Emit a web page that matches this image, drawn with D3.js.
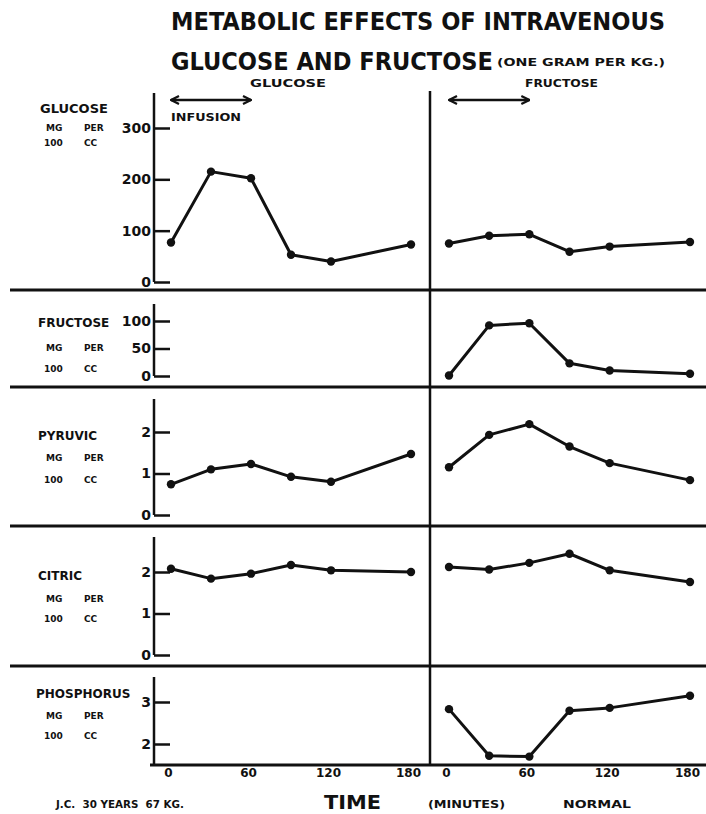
<!DOCTYPE html>
<html>
<head>
<meta charset="utf-8">
<script src="https://cdn.jsdelivr.net/npm/d3@7"></script>
<style>
  body { margin: 0; background: #fff; }
  text { fill: #111; white-space: pre; }
  .lab { font-family: "DejaVu Sans", sans-serif; font-weight: bold; }
  .title { font-family: "Liberation Sans Narrow", "DejaVu Sans Condensed", sans-serif; font-weight: bold; }
</style>
</head>
<body>
<div id="chart"></div>
<script>
// data
var times = [0, 30, 60, 90, 120, 180];
var xTicks = [0, 60, 120, 180];

var glucoseG = [77, 215, 202, 53, 40, 73];
var glucoseF = [75, 90, 93, 59, 69, 78];
var fructoseG = null; // not measured after glucose
var fructoseF = [1, 92, 96, 23, 10, 4];
var pyruvicG = [0.74, 1.10, 1.23, 0.92, 0.80, 1.47];
var pyruvicF = [1.15, 1.93, 2.19, 1.65, 1.25, 0.84];
var citricG = [2.08, 1.84, 1.96, 2.17, 2.04, 2.00];
var citricF = [2.12, 2.06, 2.22, 2.44, 2.04, 1.76];
var phosG = null;
var phosF = [2.83, 1.72, 1.70, 2.79, 2.86, 3.15];

var panelNames = ["GLUCOSE", "FRUCTOSE", "PYRUVIC", "CITRIC", "PHOSPHORUS"];

var width = 706, height = 814;
var svg = d3.select("#chart").append("svg")
    .attr("width", width)
    .attr("height", height);

var xLeft = d3.scaleLinear().domain([0, 180]).range([171, 411]);
var xRight = d3.scaleLinear().domain([0, 180]).range([449, 690]);

var axisX = 154, divX = 430;

// panel layout
var panels = [
  {name: panelNames[0], g: glucoseG, f: glucoseF, domain: [0, 300], range: [282, 128], ticks: [0, 100, 200, 300],
   top: 93, bottom: 282, nameY: 108, mgY: 127, ccY: 142, nameX: 40, nameSize: 13},
  {name: panelNames[1], g: fructoseG, f: fructoseF, domain: [0, 100], range: [376, 321], ticks: [0, 50, 100],
   top: 304, bottom: 376, nameY: 322, mgY: 347, ccY: 368, nameX: 38, nameSize: 12},
  {name: panelNames[2], g: pyruvicG, f: pyruvicF, domain: [0, 2], range: [515, 432], ticks: [0, 1, 2],
   top: 399, bottom: 515, nameY: 435, mgY: 457, ccY: 479, nameX: 38, nameSize: 12},
  {name: panelNames[3], g: citricG, f: citricF, domain: [0, 2], range: [655, 572], ticks: [0, 1, 2],
   top: 537, bottom: 655, nameY: 575, mgY: 598, ccY: 618, nameX: 38, nameSize: 12},
  {name: panelNames[4], g: phosG, f: phosF, domain: [2, 3], range: [744, 702], ticks: [2, 3],
   top: 677, bottom: 765, nameY: 693, mgY: 715, ccY: 735, nameX: 36, nameSize: 12}
];

// title
svg.append("text").attr("class", "title")
    .attr("x", 171).attr("y", 30)
    .attr("font-size", 24)
    .attr("textLength", 494).attr("lengthAdjust", "spacingAndGlyphs")
    .text("METABOLIC EFFECTS OF INTRAVENOUS");
svg.append("text").attr("class", "title")
    .attr("x", 171).attr("y", 70)
    .attr("font-size", 24)
    .attr("textLength", 322).attr("lengthAdjust", "spacingAndGlyphs")
    .text("GLUCOSE AND FRUCTOSE");
svg.append("text").attr("class", "lab")
    .attr("x", 497).attr("y", 66)
    .attr("font-size", 11)
    .attr("textLength", 168).attr("lengthAdjust", "spacingAndGlyphs")
    .text("(ONE GRAM PER KG.)");

svg.append("text").attr("class", "lab")
    .attr("x", 250).attr("y", 87).attr("font-size", 11)
    .attr("textLength", 76).attr("lengthAdjust", "spacingAndGlyphs")
    .text("GLUCOSE");
svg.append("text").attr("class", "lab")
    .attr("x", 525).attr("y", 87).attr("font-size", 11)
    .attr("textLength", 73).attr("lengthAdjust", "spacingAndGlyphs")
    .text("FRUCTOSE");

// infusion arrows
var defs = svg.append("defs");
defs.append("marker").attr("id", "ah")
    .attr("viewBox", "0 0 10 10").attr("refX", 9).attr("refY", 5)
    .attr("markerWidth", 4).attr("markerHeight", 4)
    .attr("orient", "auto-start-reverse")
  .append("path").attr("d", "M1,1 L9,5 L1,9").attr("fill", "none")
    .attr("stroke", "#111").attr("stroke-width", 2.2);

[xLeft, xRight].forEach(function(xs) {
  svg.append("line")
    .attr("x1", xs(0)).attr("x2", xs(60))
    .attr("y1", 100).attr("y2", 100)
    .attr("stroke", "#111").attr("stroke-width", 2.5)
    .attr("marker-start", "url(#ah)").attr("marker-end", "url(#ah)");
});
svg.append("text").attr("class", "lab")
    .attr("x", 171).attr("y", 121).attr("font-size", 11)
    .attr("textLength", 70).attr("lengthAdjust", "spacingAndGlyphs")
    .text("INFUSION");

// separators
[290, 387, 526, 666].forEach(function(y) {
  svg.append("line").attr("x1", 10).attr("x2", width)
    .attr("y1", y).attr("y2", y)
    .attr("stroke", "#111").attr("stroke-width", 2.8);
});
svg.append("line").attr("x1", divX).attr("x2", divX)
    .attr("y1", 91).attr("y2", 765)
    .attr("stroke", "#111").attr("stroke-width", 2.5);

var line = d3.line();

panels.forEach(function(p) {
  var y = d3.scaleLinear().domain(p.domain).range(p.range);
  var g = svg.append("g");

  // y axis
  g.append("line").attr("x1", axisX).attr("x2", axisX)
    .attr("y1", p.top).attr("y2", p.bottom)
    .attr("stroke", "#111").attr("stroke-width", 2.5);

  var ax = d3.axisLeft(y).tickValues(p.ticks).tickFormat(d3.format("d"))
    .tickSizeInner(-16).tickSizeOuter(0).tickPadding(3);
  var axG = g.append("g").attr("transform", "translate(" + axisX + ",0)").call(ax);
  axG.select(".domain").remove();
  axG.selectAll(".tick line").attr("stroke", "#111").attr("stroke-width", 2.5);
  axG.selectAll(".tick text").attr("class", "lab").attr("font-size", 14)
    .attr("font-family", "DejaVu Sans").attr("font-weight", "bold").attr("fill", "#111");

  // labels
  g.append("text").attr("class", "lab").attr("x", p.nameX).attr("y", p.nameY + 5)
    .attr("font-size", p.nameSize).text(p.name);
  g.append("text").attr("class", "lab").attr("x", 46).attr("y", p.mgY + 4)
    .attr("font-size", 9).text("MG");
  g.append("text").attr("class", "lab").attr("x", 84).attr("y", p.mgY + 4)
    .attr("font-size", 9).text("PER");
  g.append("text").attr("class", "lab").attr("x", 44).attr("y", p.ccY + 4)
    .attr("font-size", 9).text("100");
  g.append("text").attr("class", "lab").attr("x", 84).attr("y", p.ccY + 4)
    .attr("font-size", 9).text("CC");

  [[p.g, xLeft], [p.f, xRight]].forEach(function(s) {
    if (!s[0]) return;
    var pts = s[0].map(function(v, i) { return [s[1](times[i]), y(v)]; });
    g.append("path").attr("d", line(pts)).attr("fill", "none")
      .attr("stroke", "#111").attr("stroke-width", 3).attr("stroke-linejoin", "round");
    g.selectAll(null).data(pts).enter().append("circle")
      .attr("cx", function(d) { return d[0]; })
      .attr("cy", function(d) { return d[1]; })
      .attr("r", 4.2).attr("fill", "#111");
  });
});

// bottom x axis
svg.append("line").attr("x1", 150).attr("x2", width)
  .attr("y1", 765).attr("y2", 765)
  .attr("stroke", "#111").attr("stroke-width", 2.8);

[xLeft, xRight].forEach(function(xs) {
  var ax = d3.axisBottom(xs).tickValues(xTicks).tickSize(0).tickPadding(0);
  var axG = svg.append("g").attr("transform", "translate(-3,768)").call(ax);
  axG.select(".domain").remove();
  axG.selectAll(".tick text").attr("font-size", 12)
    .attr("font-family", "DejaVu Sans").attr("font-weight", "bold").attr("fill", "#111")
    .attr("dy", "0.71em");
});

svg.append("text").attr("class", "lab").attr("x", 56).attr("y", 808).attr("font-size", 11)
  .attr("textLength", 128).attr("lengthAdjust", "spacingAndGlyphs")
  .text("J.C.  30 YEARS  67 KG.");
svg.append("text").attr("class", "title").attr("x", 324).attr("y", 809).attr("font-size", 20)
  .attr("textLength", 57).attr("lengthAdjust", "spacingAndGlyphs")
  .text("TIME");
svg.append("text").attr("class", "lab").attr("x", 428).attr("y", 808).attr("font-size", 11)
  .attr("textLength", 77).attr("lengthAdjust", "spacingAndGlyphs")
  .text("(MINUTES)");
svg.append("text").attr("class", "lab").attr("x", 563).attr("y", 808).attr("font-size", 11)
  .attr("textLength", 68).attr("lengthAdjust", "spacingAndGlyphs")
  .text("NORMAL");
</script>
</body>
</html>
